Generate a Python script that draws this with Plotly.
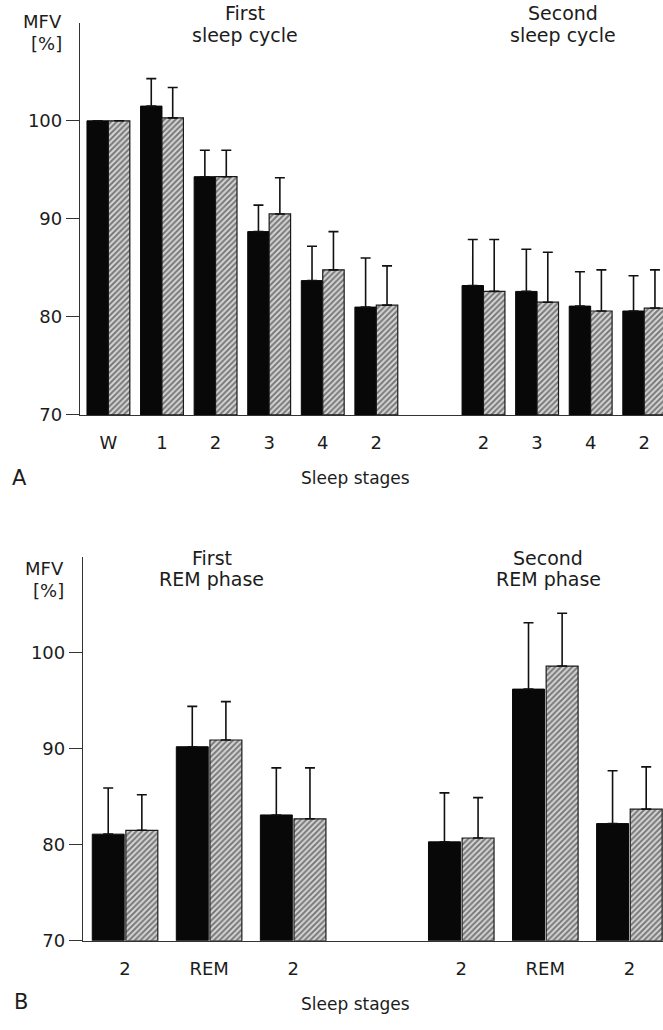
import plotly.graph_objects as go

# ---------------- data ----------------
# Panel A: sleep cycles
a_cycle1_stages = ["W", "1", "2", "3", "4", "2"]
a_cycle2_stages = ["2", "3", "4", "2"]
a_black_c1 = [100.0, 101.5, 94.3, 88.7, 83.7, 81.0]
a_black_c1_err = [0.0, 2.8, 2.7, 2.7, 3.5, 5.0]
a_hatch_c1 = [100.0, 100.3, 94.3, 90.5, 84.8, 81.2]
a_hatch_c1_err = [0.0, 3.1, 2.7, 3.7, 3.9, 4.0]
a_black_c2 = [83.2, 82.6, 81.1, 80.6]
a_black_c2_err = [4.7, 4.3, 3.5, 3.6]
a_hatch_c2 = [82.6, 81.5, 80.6, 80.9]
a_hatch_c2_err = [5.3, 5.1, 4.2, 3.9]

# Panel B: REM phases
b_rem1_stages = ["2", "REM", "2"]
b_rem2_stages = ["2", "REM", "2"]
b_black_r1 = [81.1, 90.2, 83.1]
b_black_r1_err = [4.8, 4.2, 4.9]
b_hatch_r1 = [81.5, 90.9, 82.7]
b_hatch_r1_err = [3.7, 4.0, 5.3]
b_black_r2 = [80.3, 96.2, 82.2]
b_black_r2_err = [5.1, 6.9, 5.5]
b_hatch_r2 = [80.7, 98.6, 83.7]
b_hatch_r2_err = [4.2, 5.5, 4.4]

# ---------------- layout helpers ----------------
W, H = 663, 1030
def px(x):
    return x / W
def py(y):
    return 1 - y / H

A_GAP = 1  # empty slot between the two cycles
B_GAP = 1

a_x1 = list(range(len(a_cycle1_stages)))
a_x2 = [len(a_cycle1_stages) + A_GAP + i for i in range(len(a_cycle2_stages))]
b_x1 = list(range(len(b_rem1_stages)))
b_x2 = [len(b_rem1_stages) + B_GAP + i for i in range(len(b_rem2_stages))]

FONT = "DejaVu Sans, Liberation Sans, Arial, sans-serif"
TXT = "#1c1c1c"

fig = go.Figure()

def add_pair(xs, black, black_err, hatch, hatch_err, xaxis, yaxis, width):
    fig.add_trace(go.Bar(
        x=xs, y=[v - 70 for v in black], base=70, width=width,
        marker=dict(color="#080808", line=dict(color="#080808", width=1)),
        error_y=dict(type="data", symmetric=False, array=black_err,
                     arrayminus=[0] * len(black_err), color="#111",
                     thickness=1.6, width=5),
        xaxis=xaxis, yaxis=yaxis, showlegend=False, offsetgroup="k",
    ))
    fig.add_trace(go.Bar(
        x=xs, y=[v - 70 for v in hatch], base=70, width=width,
        marker=dict(color="#ffffff",
                    line=dict(color="#1a1a1a", width=1.2),
                    pattern=dict(shape="/", fgcolor="#1a1a1a", bgcolor="#d6d6d6",
                                 size=4, solidity=0.5)),
        error_y=dict(type="data", symmetric=False, array=hatch_err,
                     arrayminus=[0] * len(hatch_err), color="#111",
                     thickness=1.6, width=5),
        xaxis=xaxis, yaxis=yaxis, showlegend=False, offsetgroup="h",
    ))

add_pair(a_x1, a_black_c1, a_black_c1_err, a_hatch_c1, a_hatch_c1_err, "x", "y", 0.40)
add_pair(a_x2, a_black_c2, a_black_c2_err, a_hatch_c2, a_hatch_c2_err, "x", "y", 0.40)
add_pair(b_x1, b_black_r1, b_black_r1_err, b_hatch_r1, b_hatch_r1_err, "x2", "y2", 0.38)
add_pair(b_x2, b_black_r2, b_black_r2_err, b_hatch_r2, b_hatch_r2_err, "x2", "y2", 0.38)

axis_font = dict(family=FONT, size=18, color=TXT)

yaxis_common = dict(
    range=[70, 110], tickvals=[70, 80, 90, 100], ticks="outside", ticklen=13,
    tickwidth=1.3, tickcolor="#333", showline=True, linecolor="#333", linewidth=1.3,
    showgrid=False, zeroline=False, tickfont=axis_font, fixedrange=True,
)
xaxis_common = dict(
    ticks="outside", ticklen=11, tickcolor="rgba(0,0,0,0)",
    showline=True, linecolor="#333", linewidth=1.3,
    showgrid=False, zeroline=False, tickfont=axis_font,
)

fig.update_layout(
    width=W, height=H,
    margin=dict(l=0, r=0, t=0, b=0),
    paper_bgcolor="white", plot_bgcolor="white",
    barmode="group", bargroupgap=0, bargap=0.2,
    xaxis=dict(domain=[px(80), 1.0], anchor="y", range=[-0.53, 10.35],
               tickvals=a_x1 + a_x2, ticktext=a_cycle1_stages + a_cycle2_stages,
               **xaxis_common),
    yaxis=dict(domain=[py(419), py(23)], anchor="x", **yaxis_common),
    xaxis2=dict(domain=[px(83), 1.0], anchor="y2", range=[-0.5, 6.4],
                tickvals=b_x1 + b_x2, ticktext=b_rem1_stages + b_rem2_stages,
                **xaxis_common),
    yaxis2=dict(domain=[py(950), py(562)], anchor="x2", **yaxis_common),
)

anns = []
def ann(text, x, y, size=18, xanchor="center"):
    anns.append(dict(text=text, x=px(x), y=py(y), xref="paper", yref="paper",
                     xanchor=xanchor, yanchor="middle", showarrow=False,
                     font=dict(family=FONT, size=size, color=TXT)))

# Panel A texts
ann("MFV", 64, 22, size=18, xanchor="right")
ann("[%]", 64, 44, size=18, xanchor="right")
ann("First", 245, 13, size=19)
ann("sleep cycle", 245, 35, size=19)
ann("Second", 563, 13, size=19)
ann("sleep cycle", 563, 35, size=19)
ann("A", 10, 483, size=21, xanchor="left")
ann("Sleep stages", 355, 483, size=17)

# Panel B texts
ann("MFV", 66, 574, size=18, xanchor="right")
ann("[%]", 66, 596, size=18, xanchor="right")
ann("First", 212, 563, size=19)
ann("REM phase", 212, 585, size=19)
ann("Second", 548, 563, size=19)
ann("REM phase", 548, 585, size=19)
ann("B", 12, 1012, size=21, xanchor="left")
ann("Sleep stages", 355, 1014, size=17)

fig.update_layout(annotations=anns)

fig.write_html("out.html")
